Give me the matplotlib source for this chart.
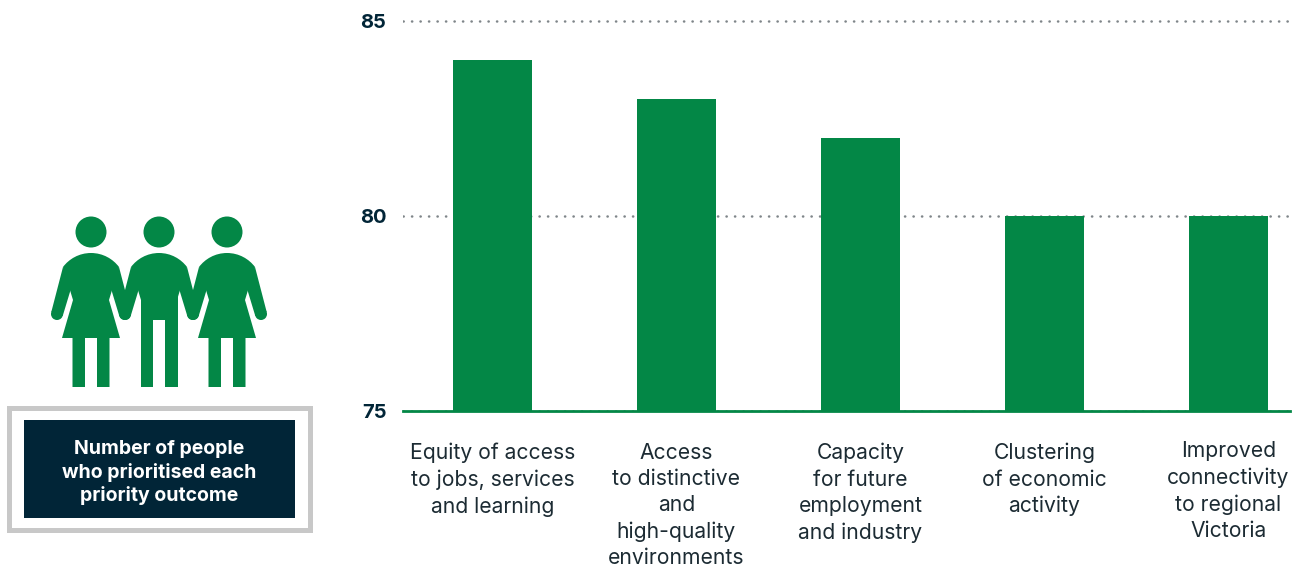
import matplotlib
matplotlib.use('Agg')
import matplotlib.pyplot as plt
from matplotlib.patches import Circle, PathPatch, Polygon, Rectangle
from matplotlib.path import Path

# Personen je Prioritaet
categories = [
    'Equity of access\nto jobs, services\nand learning',
    'Access\nto distinctive\nand\nhigh-quality\nenvironments',
    'Capacity\nfor future\nemployment\nand industry',
    'Clustering\nof economic\nactivity',
    'Improved\nconnectivity\nto regional\nVictoria',
]
people = [84, 83, 82, 80, 80]
y_ticks = [75, 80, 85]
box_title = 'Number of people\nwho prioritised each\npriority outcome'

GREEN = '#038746'
NAVY = '#012537'
W, H = 1306, 570

plt.rcParams['font.family'] = ['Inter', 'DejaVu Sans']

fig = plt.figure(figsize=(W / 100, H / 100), dpi=100)

# Balken
ax = fig.add_axes([403 / W, (H - 411) / H, 887 / W, 409.5 / H])
ax.bar(range(len(people)), people, width=0.43, color=GREEN, zorder=3)
ax.set_xlim(-0.486, 4.334)
ax.set_ylim(75, 85.5)
ax.set_yticks(y_ticks)
ax.set_yticklabels(y_ticks, fontsize=14.5, fontweight='bold', color=NAVY)
ax.set_xticks(range(len(people)))
ax.set_xticklabels(categories, fontsize=15.2, color='#1c2b33', linespacing=1.385)
ax.tick_params(axis='both', length=0)
ax.tick_params(axis='x', pad=23)
ax.tick_params(axis='y', pad=12)
ax.xaxis.get_major_ticks()[4].set_pad(21.5)
ax.grid(axis='y', color='#7f8589', linewidth=1.8,
        linestyle=(0, (0.1, 3.3)), dash_capstyle='round', zorder=1)
ax.set_axisbelow(True)
for side in ['top', 'left', 'right']:
    ax.spines[side].set_visible(False)
ax.spines['bottom'].set_color(GREEN)
ax.spines['bottom'].set_linewidth(2)

# Ebene in Pixeln fuer Piktogramm und Kasten
deco = fig.add_axes([0, 0, 1, 1], zorder=-1)
deco.set_xlim(0, W)
deco.set_ylim(H, 0)
deco.axis('off')


def upper_body(cx):
    # Kopf, runde Schultern und beide Arme
    deco.add_patch(Circle((cx, 232), 15.5, color=GREEN, lw=0))
    verts = [(cx - 28, 267), (cx - 22, 259), (cx - 12, 253), (cx, 253),
             (cx + 12, 253), (cx + 22, 259), (cx + 28, 267),
             (cx + 18, 300), (cx - 18, 300), (cx - 28, 267)]
    codes = [Path.MOVETO] + [Path.CURVE4] * 6 + [Path.LINETO, Path.LINETO,
                                                 Path.CLOSEPOLY]
    deco.add_patch(PathPatch(Path(verts, codes), color=GREEN, lw=0))
    for s in (-1, 1):
        limb = [(cx + s * 28, 267), (cx + s * 39.7, 312), (cx + s * 28.3, 316),
                (cx + s * 18, 282)]
        deco.add_patch(Polygon(limb, closed=True, color=GREEN, lw=0))
        deco.add_patch(Circle((cx + s * 34, 314), 6, color=GREEN, lw=0))


def woman(cx):
    upper_body(cx)
    body = [(cx - 18, 275), (cx + 18, 275), (cx + 18, 300), (cx + 29, 338),
            (cx + 18.5, 338), (cx + 18.5, 387), (cx + 6, 387), (cx + 6, 338),
            (cx - 6, 338), (cx - 6, 387), (cx - 18.5, 387), (cx - 18.5, 338),
            (cx - 29, 338), (cx - 18, 300)]
    deco.add_patch(Polygon(body, closed=True, color=GREEN, lw=0))


def man(cx):
    upper_body(cx)
    body = [(cx - 18.5, 275), (cx + 18.5, 275), (cx + 18.5, 387), (cx + 6, 387),
            (cx + 6, 320), (cx - 6, 320), (cx - 6, 387), (cx - 18.5, 387)]
    deco.add_patch(Polygon(body, closed=True, color=GREEN, lw=0))


woman(91)
man(159)
woman(227)

# Titelkasten
deco.add_patch(Rectangle((8.5, 407.5), 301, 122, facecolor='white',
                         edgecolor='#c8c8c8', lw=3.6))
deco.add_patch(Rectangle((24, 420), 271, 98, facecolor=NAVY, lw=0))
deco.text(159, 472.5, box_title, color='white', fontsize=14, fontweight='bold',
          ha='center', va='center', linespacing=1.32)

fig.savefig('out.png', dpi=100)
